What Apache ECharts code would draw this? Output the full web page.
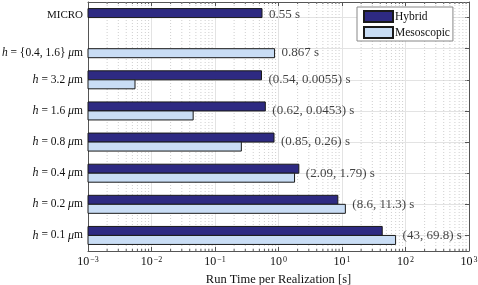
<!DOCTYPE html>
<html><head><meta charset="utf-8">
<script src="https://cdn.jsdelivr.net/npm/echarts@6/dist/echarts.min.js"></script>
<style>html,body{margin:0;padding:0;background:#fff}#c{width:478px;height:285px}</style>
</head><body><div id="c"></div>
<script>
// ---- data ----
const categories = ['MICRO', '{0.4, 1.6}', '3.2', '1.6', '0.8', '0.4', '0.2', '0.1'];
const hybrid      = [0.55, null, 0.54, 0.62, 0.85, 2.09, 8.6, 43];
const mesoscopic  = [null, 0.867, 0.0055, 0.0453, 0.26, 1.79, 11.3, 69.8];
const barLabels   = ['0.55 s', '0.867 s', '(0.54, 0.0055) s', '(0.62, 0.0453) s', '(0.85, 0.26) s', '(2.09, 1.79) s', '(8.6, 11.3) s', '(43, 69.8) s'];
const decades     = [-3, -2, -1, 0, 1, 2, 3];
const xTitle      = 'Run Time per Realization [s]';

const FONT = 'Liberation Serif';
const XMIN = Math.pow(10, decades[0]), XMAX = Math.pow(10, decades[decades.length - 1]);
const minorVals = [];
for (let i = 0; i < decades.length - 1; i++) {
  for (let k = 2; k <= 9; k++) minorVals.push(k * Math.pow(10, decades[i]));
}
const labelPts = categories.map((c, i) => {
  const h = hybrid[i], m = mesoscopic[i];
  const v = Math.max(h == null ? 0 : h, m == null ? 0 : m);
  const dy = h == null ? 4 : (m == null ? -3 : 0);
  return { value: [v, i], label: { offset: [0, dy] }, name: barLabels[i] };
});

const BAR_H = 9;
function barRenderer(side) {
  return function (params, api) {
    const v = api.value(0);
    if (v == null || isNaN(v)) return null;
    const i = api.value(1);
    const p0 = api.coord([XMIN, i]);
    const p1 = api.coord([v, i]);
    const y = side < 0 ? p0[1] - BAR_H : p0[1];
    return {
      type: 'rect',
      shape: { x: p0[0], y: y, width: p1[0] - p0[0], height: BAR_H },
      style: api.style()
    };
  };
}
const toPairs = arr => arr.map((v, i) => [v == null ? NaN : v, i]);

const chart = echarts.init(document.getElementById('c'), null, { renderer: 'canvas' });
const supFmt = v => {
  const e = Math.round(Math.log10(v));
  return '{b|10}{s|' + (e < 0 ? '\u2212' + (-e) : e) + '}';
};
const xRich = {
  b: { fontFamily: FONT, fontSize: 12, color: '#111', verticalAlign: 'bottom' },
  s: { fontFamily: FONT, fontSize: 8, color: '#111', verticalAlign: 'top', padding: [0, 0, 0, 1] }
};
const commonX = {
  type: 'log', logBase: 10, min: XMIN, max: XMAX,
  axisLine: { show: true, lineStyle: { color: '#555', width: 1 } },
  axisTick: { show: true, inside: true, length: 4, lineStyle: { color: '#555' } },
  minorTick: { show: false },
};
chart.setOption({
  animation: false,
  grid: { left: 88, right: 9, top: 2, bottom: 34, containLabel: false, outerBoundsMode: 'none' },
  legend: {
    data: ['Hybrid', 'Mesoscopic'], orient: 'vertical', left: 357, top: 7,
    itemWidth: 29, itemHeight: 11, itemGap: 3,
    padding: [3, 3, 2, 6], borderColor: '#888', borderWidth: 1, backgroundColor: '#fff',
    textStyle: { fontFamily: FONT, fontSize: 11.5, color: '#111', padding: [0, 0, 0, -3] },
    icon: 'rect'
  },
  xAxis: [
    Object.assign({}, commonX, {
      position: 'bottom',
      axisLabel: { formatter: supFmt, rich: xRich, margin: 5 },
      splitLine: { show: true, lineStyle: { color: '#e3e3e3', width: 1 } },
      name: xTitle, nameLocation: 'middle', nameGap: 19,
      nameTextStyle: { fontFamily: FONT, fontSize: 12.5, color: '#111' }
    }),
    Object.assign({}, commonX, {
      position: 'top', axisLabel: { show: false }, splitLine: { show: false }
    })
  ],
  yAxis: [
    {
      type: 'category', data: categories, inverse: true,
      axisLine: { show: true, lineStyle: { color: '#555' } },
      axisTick: { show: false, alignWithLabel: true },
      splitLine: { show: true, alignWithLabel: true, lineStyle: { color: '#e3e3e3' } },
      axisLabel: {
        margin: 5, color: '#111', fontFamily: FONT, fontSize: 11.5,
        formatter: (c, i) => {
          if (c === 'MICRO') return '{u|MICRO}\n{sp|}';
          if (c.startsWith('{')) return '{sd|}\n{ii|h}{t| = ' + c.slice(0, -1) + '}} {ii|\u03bc}{t|m}';
          return '{i|h} = ' + c + ' {i|\u03bc}m';
        },
        rich: {
          u: { fontFamily: FONT, fontSize: 11, color: '#111' },
          i: { fontFamily: FONT, fontSize: 12, color: '#111', fontStyle: 'italic' },
          ii: { fontFamily: FONT, fontSize: 11.5, color: '#111', fontStyle: 'italic' },
          t: { fontFamily: FONT, fontSize: 11.5, color: '#111' },
          sp: { height: 4, fontSize: 1, lineHeight: 4 },
          sd: { height: 8, fontSize: 1, lineHeight: 8 }
        }
      }
    },
    {
      type: 'category', data: categories, inverse: true, position: 'right',
      axisLine: { show: true, lineStyle: { color: '#555' } },
      axisTick: { show: true, inside: true, alignWithLabel: true, length: 4, lineStyle: { color: '#555' } },
      axisLabel: { show: false }, splitLine: { show: false }
    }
  ],
  series: [
    {
      type: 'custom', silent: true, z: 1, data: minorVals.map(v => [v, 0]),
      renderItem: (params, api) => {
        const x = api.coord([api.value(0), 0])[0];
        const cs = params.coordSys;
        return { type: 'line', shape: { x1: x, y1: cs.y, x2: x, y2: cs.y + cs.height },
                 style: { stroke: '#cfcfcf', lineWidth: 1, lineDash: [1, 2] } };
      }
    },
    {
      name: 'Hybrid', type: 'custom', data: toPairs(hybrid), z: 3,
      encode: { x: 0, y: 1 },
      itemStyle: { color: '#2e2a82', borderColor: '#1a1a1a', borderWidth: 1 },
      renderItem: barRenderer(-1)
    },
    {
      name: 'Mesoscopic', type: 'custom', data: toPairs(mesoscopic), z: 3,
      encode: { x: 0, y: 1 },
      itemStyle: { color: '#c9ddf5', borderColor: '#1a1a1a', borderWidth: 1 },
      renderItem: barRenderer(1)
    },
    {
      type: 'custom', silent: true, z: 5, data: minorVals.map(v => [v, 0]),
      renderItem: (params, api) => {
        const x = api.coord([api.value(0), 0])[0];
        const cs = params.coordSys;
        return {
          type: 'group', children: [
            { type: 'line', shape: { x1: x, y1: cs.y + cs.height, x2: x, y2: cs.y + cs.height - 2 },
              style: { stroke: '#555', lineWidth: 1 } },
            { type: 'line', shape: { x1: x, y1: cs.y, x2: x, y2: cs.y + 2 },
              style: { stroke: '#555', lineWidth: 1 } }
          ]
        };
      }
    },
    {
      type: 'scatter', data: labelPts, symbolSize: 0, silent: true,
      label: {
        show: true, position: 'right', distance: 7, formatter: p => p.name,
        fontFamily: FONT, fontSize: 13, color: '#111'
      }
    }
  ]
});
</script></body></html>
